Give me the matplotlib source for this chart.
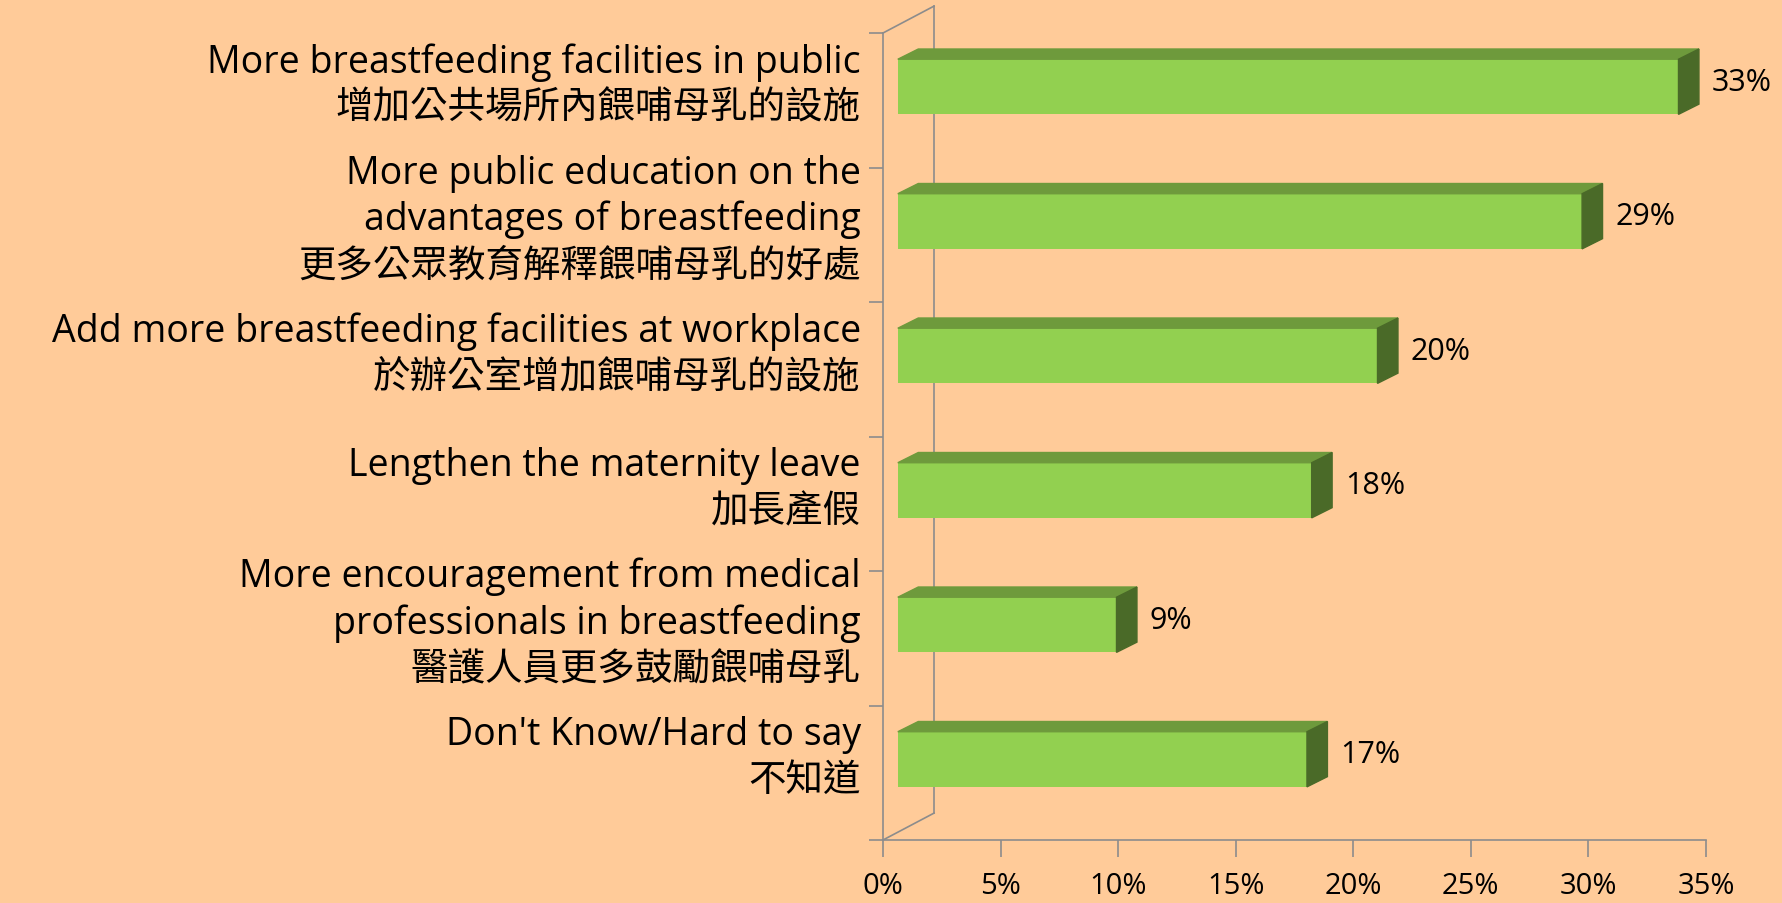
import matplotlib.pyplot as plt

plt.rcParams['font.family'] = ['Open Sans', 'Noto Sans CJK TC', 'DejaVu Sans']

# categories, bottom to top
labels = [
    "Don't Know/Hard to say\n不知道",
    "More encouragement from medical\nprofessionals in breastfeeding\n醫護人員更多鼓勵餵哺母乳",
    "Lengthen the maternity leave\n加長產假",
    "Add more breastfeeding facilities at workplace\n於辦公室增加餵哺母乳的設施",
    "More public education on the\nadvantages of breastfeeding\n更多公眾教育解釋餵哺母乳的好處",
    "More breastfeeding facilities in public\n增加公共場所內餵哺母乳的設施",
]
values = [17.4, 9.3, 17.6, 20.4, 29.1, 33.2]
xticks = [0, 5, 10, 15, 20, 25, 30, 35]

bg = "#FFCB99"
front_c = "#92D050"
top_c = "#6E9A3C"
side_c = "#4A6A28"
line_c = "#8C8C8C"

fig = plt.figure(figsize=(17.82, 9.04), dpi=100, facecolor=bg)
ax = fig.add_axes([883 / 1782, 1 - 841 / 904, (1706 - 883) / 1782, (841 - 34) / 904])
ax.set_facecolor(bg)
ax.set_xlim(0, 35)
ax.set_ylim(0, 6)

# 3d depth settings (data units)
wall_dx, wall_dy = 2.17, 0.2
off = 0.63
dx, dy = 0.87, 0.076
h = 0.41

# walls / floor outline
ax.plot([0, 0], [0, 6], color=line_c, lw=1.2, clip_on=False)
ax.plot([wall_dx, wall_dx], [wall_dy, 6 + wall_dy], color=line_c, lw=1.2, clip_on=False)
ax.plot([0, wall_dx], [6, 6 + wall_dy], color=line_c, lw=1.2, clip_on=False)
ax.plot([0, wall_dx], [0, wall_dy], color=line_c, lw=1.2, clip_on=False)

for i, v in enumerate(values):
    yc = i + 0.6
    yb, yt = yc - h / 2, yc + h / 2
    ax.barh(yc, v, left=off, height=h, color=front_c, zorder=3)
    ax.fill([off, off + v, off + v + dx, off + dx], [yt, yt, yt + dy, yt + dy],
            color=top_c, zorder=3, clip_on=False)
    ax.fill([off + v, off + v, off + v + dx, off + v + dx], [yb, yt, yt + dy, yb + dy],
            color=side_c, zorder=3, clip_on=False)
    ax.text(off + v + dx + 0.55, yc + dy / 2, "%d%%" % round(v), fontsize=22,
            va="center", ha="left")

for s in ["top", "right", "left"]:
    ax.spines[s].set_visible(False)
ax.spines["bottom"].set_color(line_c)
ax.spines["bottom"].set_linewidth(1.2)

ax.set_xticks(xticks)
ax.set_xticklabels(["%d%%" % t for t in xticks], fontsize=21)
ax.tick_params(axis="x", length=12, width=1.2, color=line_c, pad=10)

ax.set_yticks([i + 0.68 for i in range(len(labels))])
ax.set_yticklabels(labels, fontsize=27, linespacing=1.28)
ax.set_yticks(range(7), minor=True)
ax.tick_params(axis="y", which="major", length=0, pad=16)
ax.tick_params(axis="y", which="minor", length=10, width=1.2, color=line_c)

fig.savefig("out.png", dpi=100, facecolor=bg)
